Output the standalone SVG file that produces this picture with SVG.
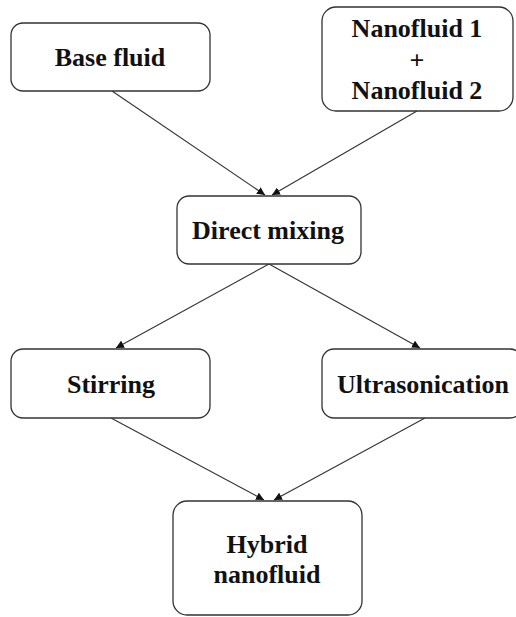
<svg xmlns="http://www.w3.org/2000/svg" width="516" height="617" viewBox="0 0 516 617">
<style>
.box{fill:#fff;stroke:#333;stroke-width:1.3}
.t{font-family:"Liberation Serif","Times New Roman",serif;font-weight:bold;font-size:26px;fill:#111;text-anchor:middle}
.c{stroke:#333;stroke-width:1.1;fill:none;marker-end:url(#ah)}
</style>
<defs>
<marker id="ah" markerUnits="userSpaceOnUse" markerWidth="10" markerHeight="8" refX="8" refY="4" orient="auto">
<path d="M0,0 L8,4 L0,8 Z" fill="#111"/>
</marker>
</defs>
<rect width="516" height="617" fill="#fff"/>
<g id="connectors">
<line class="c" x1="112" y1="91" x2="265" y2="195"/>
<line class="c" x1="417" y1="111" x2="272" y2="195"/>
<line class="c" x1="269" y1="264" x2="116" y2="348"/>
<line class="c" x1="269" y1="264" x2="420" y2="348"/>
<line class="c" x1="111" y1="418" x2="264" y2="500"/>
<line class="c" x1="425" y1="418" x2="274" y2="500"/>
</g>
<g id="base-fluid">
<rect class="box" x="11" y="23" width="199" height="68" rx="12"/>
<text class="t" x="110" y="66">Base fluid</text>
</g>
<g id="nanofluids">
<rect class="box" x="322" y="7" width="191" height="104" rx="14"/>
<text class="t" x="417" y="37">Nanofluid 1</text>
<text class="t" x="417" y="69">+</text>
<text class="t" x="417" y="99">Nanofluid 2</text>
</g>
<g id="direct-mixing">
<rect class="box" x="177" y="196" width="184" height="68" rx="12"/>
<text class="t" x="268" y="239">Direct mixing</text>
</g>
<g id="stirring">
<rect class="box" x="11" y="349" width="199" height="69" rx="12"/>
<text class="t" x="111" y="393">Stirring</text>
</g>
<g id="ultrasonication">
<rect class="box" x="322" y="349" width="200" height="69" rx="12"/>
<text class="t" x="423" y="393">Ultrasonication</text>
</g>
<g id="hybrid-nanofluid">
<rect class="box" x="173" y="501" width="189" height="114" rx="14"/>
<text class="t" x="267" y="553">Hybrid</text>
<text class="t" x="267" y="583">nanofluid</text>
</g>
</svg>
